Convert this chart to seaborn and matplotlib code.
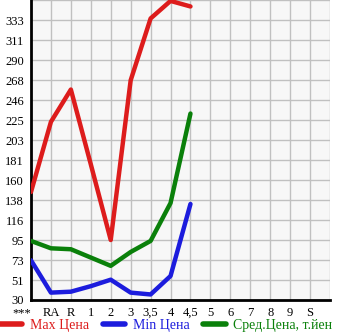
import matplotlib
matplotlib.use("Agg")
import matplotlib.pyplot as plt
import seaborn as sns
import pandas as pd
from matplotlib.lines import Line2D

categories = ["***", "RA", "R", "1", "2", "3", "3,5", "4", "4,5", "5", "6", "7", "8", "9", "S"]
max_price = [147, 223, 258, 177, 95, 268, 335, 354, 348]
min_price = [73, 38, 39, 45, 52, 38, 36, 56, 134]
avg_price = [94, 86, 85, 76, 67, 82, 94, 135, 232]
y_ticks = [30, 51, 73, 95, 116, 138, 160, 181, 203, 225, 246, 268, 290, 311, 333]
series_names = ["Max Цена", "Min Цена", "Сред.Цена, т.йен"]
colors = ["#dd1c1c", "#1c1cdd", "#0a800a"]

rows = []
for name, vals in zip(series_names, [max_price, min_price, avg_price]):
    for i, v in enumerate(vals):
        rows.append({"pos": i, "value": v, "series": name})
df = pd.DataFrame(rows)

sns.set_style("white")
plt.rcParams["font.family"] = ["Liberation Serif", "DejaVu Serif"]

fig = plt.figure(figsize=(3.45, 3.35), dpi=100)
ax = fig.add_axes([31 / 345, 35 / 335, 299 / 345, 300 / 335])
ax.set_facecolor("#f7f7f7")

sns.lineplot(data=df, x="pos", y="value", hue="series", hue_order=series_names,
             palette=colors, linewidth=3.2, ax=ax, legend=False, zorder=3)
for line in ax.lines:
    line.set_solid_capstyle("round")
    line.set_solid_joinstyle("round")

ymin, ymax = 30, 355
ax.set_xlim(0, 15)
ax.set_ylim(ymin, ymax)
step = (y_ticks[-1] - y_ticks[0]) / (len(y_ticks) - 1)
ypos = [30 + step * k for k in range(len(y_ticks))]
ax.set_yticks(ypos)
ax.set_yticklabels([str(t) for t in y_ticks])
ax.set_xticks(range(len(categories)))
ax.set_xticklabels(categories)
ax.get_xticklabels()[0].set_horizontalalignment("right")
for k in range(1, 16):
    ax.axvline(k, color="#c0c0c0", lw=1, zorder=1)
for y in ypos[1:] + [ymax]:
    ax.axhline(y, color="#c0c0c0", lw=1, zorder=1)

ax.tick_params(axis="both", labelsize=9, colors="black", length=3, width=1, pad=2)
ax.tick_params(axis="x", length=0, pad=5)
ax.tick_params(axis="y", direction="out")
for s in ["top", "right"]:
    ax.spines[s].set_visible(False)
for s in ["left", "bottom"]:
    ax.spines[s].set_color("black")
    ax.spines[s].set_linewidth(2)
ax.set_xlabel("")
ax.set_ylabel("")

handles = [Line2D([0], [0], color=c, lw=4, solid_capstyle="round") for c in colors]
leg = fig.legend(handles, series_names, loc="lower left", bbox_to_anchor=(0.0, 0.008),
                 ncol=3, frameon=False, fontsize=10, handlelength=1.6,
                 handletextpad=0.55, columnspacing=1.0, borderpad=0.0,
                 borderaxespad=0.0)
for t, c in zip(leg.get_texts(), colors):
    t.set_color(c)

fig.savefig("out.png", dpi=100)
